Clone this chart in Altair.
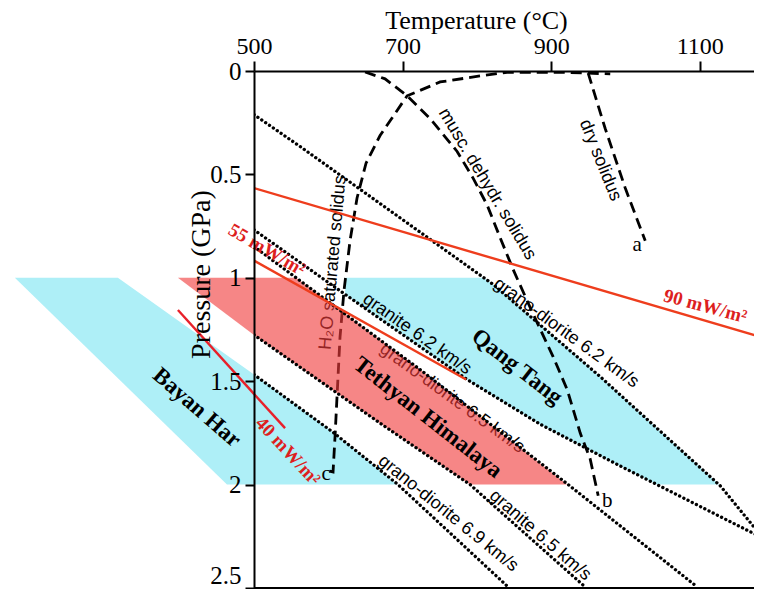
import altair as alt
import pandas as pd

# ---------------- data (T in °C, P in GPa) ----------------
# solidus curves
h2o_T = [601.7, 606.4, 609.1, 613.1, 615.8, 621.2, 629.3, 638.7, 650.8, 669.7, 706.1, 750.5, 804.4, 840.7, 912.0, 979.5]
h2o_P = [1.935, 1.939, 1.766, 1.478, 1.286, 1.060, 0.820, 0.614, 0.446, 0.312, 0.120, 0.053, 0.024, 0.006, 0.006, 0.014]
musc_T = [649.5, 676.4, 706.1, 737.0, 773.4, 794.9, 813.8, 831.3, 848.8, 875.8, 902.7, 921.5, 939.1, 952.5, 963.3]
musc_P = [0.005, 0.038, 0.120, 0.230, 0.389, 0.518, 0.648, 0.806, 0.960, 1.176, 1.382, 1.540, 1.751, 1.876, 2.054]
dry_T = [949.8, 972.7, 999.7, 1026.6]
dry_P = [0.010, 0.278, 0.566, 0.821]

# seismic velocity contours
gd62_T = [500, 562, 696.6, 821.9, 966, 1127.6, 1185.5]
gd62_P = [0.211, 0.365, 0.710, 1.032, 1.478, 2.006, 2.260]
gr62_T = [500, 622.6, 786.9, 885.2, 992.9, 1185.5]
gr62_P = [0.768, 1.080, 1.492, 1.708, 1.910, 2.260]
gd65_T = [500, 723.6, 921.5, 1096.6]
gd65_P = [0.849, 1.444, 1.996, 2.495]
gr65_T = [500, 669.7, 790.9, 945.8]
gr65_P = [1.276, 1.703, 2.0, 2.495]
gd69_T = [500, 606.4, 692.6, 842.1]
gd69_P = [1.468, 1.747, 1.996, 2.495]

# geotherms
g90_T = [500, 1185.5]
g90_P = [0.566, 1.290]
g55_T = [500, 785.5]
g55_P = [0.917, 1.492]
g40_T = [397.6, 541.8]
g40_P = [1.156, 1.727]

# regions
bayan_T = [178.1, 316.8, 500, 606.4, 692.6, 463.6]
bayan_P = [1.0, 1.0, 1.468, 1.747, 2.0, 2.0]
qang_T = [623.0, 809.4, 821.9, 966.0, 1125.8, 1042.4, 992.9, 885.2, 786.9, 622.6]
qang_P = [1.0, 1.0, 1.032, 1.478, 2.0, 2.0, 1.910, 1.708, 1.492, 1.080]
teth_T = [397.6, 556.8, 723.6, 921.5, 790.9, 669.7, 500]
teth_P = [1.0, 1.0, 1.444, 2.0, 2.0, 1.703, 1.276]

# labels
under_txt = ["H\u2082O saturated  solidus", "grano-diorite 6.5 km/s"]
under_T = [606.4, 766.7]
under_P = [0.926, 1.583]
under_ang = [275, 36]

line_txt = ["musc. dehydr. solidus", "dry solidus", "granite 6.2 km/s",
            "grano-diorite 6.2 km/s", "grano-diorite 6.9 km/s", "granite 6.5 km/s"]
line_T = [813.8, 966.0, 719.5, 920.2, 761.3, 885.2]
line_P = [0.547, 0.432, 1.272, 1.267, 2.140, 2.246]
line_ang = [59, 68, 35, 36, 39, 41]

region_txt = ["Qang Tang", "Tethyan Himalaya", "Bayan Har"]
region_T = [854.2, 734.3, 423.2]
region_P = [1.430, 1.675, 1.627]
region_ang = [38, 38, 41]

red_txt = ["90 mW/m\u00b2", "55 mW/m\u00b2", "40 mW/m\u00b2"]
red_T = [1107.4, 517.5, 545.8]
red_P = [1.137, 0.864, 1.838]
red_ang = [15, 30, 47]

pt_txt = ["a", "b", "c"]
pt_T = [1015.8, 975.4, 597.0]
pt_P = [0.840, 2.078, 1.948]

x_ticks = [500, 700, 900, 1100]
y_ticks = [0, 0.5, 1, 1.5, 2, 2.5]


def seg(T, P, name):
    return pd.DataFrame({"T": T, "P": P, "i": list(range(len(T))), "name": name})


def lab(txt, T, P, ang):
    return pd.DataFrame({"txt": txt, "T": T, "P": P, "ang": ang})


xsc = alt.Scale(domain=[500, 1173], nice=False, zero=False)
ysc = alt.Scale(domain=[0, 2.5], reverse=True, nice=False, zero=False)

xaxis = alt.Axis(orient="top", values=x_ticks, title="Temperature (\u00b0C)",
                 titleFont="Liberation Serif", titleFontSize=26, titleFontWeight="normal",
                 titleColor="black", titleX=222, titleY=-43, titleBaseline="alphabetic",
                 labelFont="Liberation Serif", labelFontSize=24, labelColor="black",
                 labelPadding=3, labelFlush=False, labelOverlap=False,
                 tickSize=10, tickWidth=2, tickColor="black",
                 domainColor="black", domainWidth=2, grid=False, zindex=1,
                 labelExpr="'' + datum.value")
yaxis = alt.Axis(values=y_ticks, title="Pressure (GPa)",
                 titleFont="Liberation Serif", titleFontSize=28, titleFontWeight="normal",
                 titleColor="black", titleAngle=270, titleX=-45, titleY=203,
                 titleBaseline="alphabetic", titleAlign="center",
                 labelFont="Liberation Serif", labelFontSize=25, labelColor="black",
                 labelPadding=4, labelFlush=False, labelOverlap=False,
                 labelBaseline=alt.condition("datum.value == 2.5", alt.value("bottom"), alt.value("middle")),
                 tickSize=9, tickWidth=2, tickColor="black",
                 domainColor="black", domainWidth=2, grid=False, zindex=1,
                 labelExpr="'' + datum.value")

X = alt.X("T:Q", scale=xsc, axis=xaxis)
Y = alt.Y("P:Q", scale=ysc, axis=yaxis)

cyan = "#aeeff7"

cyan_df = pd.concat([seg(bayan_T, bayan_P, "bayan"), seg(qang_T, qang_P, "qang")])
cyan_layer = alt.Chart(cyan_df).mark_line(fill=cyan, strokeWidth=0, strokeOpacity=0, clip=False).encode(
    x=X, y=Y, order="i:Q", detail="name:N")

h2o_layer = alt.Chart(seg(h2o_T, h2o_P, "h2o")).mark_line(
    color="black", strokeWidth=2.8, strokeDash=[11, 6], clip=True).encode(x=X, y=Y, order="i:Q")

under_layer = alt.Chart(lab(under_txt, under_T, under_P, under_ang)).mark_text(
    font="Liberation Sans", fontSize=18, color="black", align="center", baseline="middle").encode(
    x=X, y=Y, text="txt:N", angle=alt.Angle("ang:Q", scale=None))

pink_layer = alt.Chart(seg(teth_T, teth_P, "teth")).mark_line(
    fill="#f03c3c", fillOpacity=0.62, strokeWidth=0, strokeOpacity=0, clip=False).encode(
    x=X, y=Y, order="i:Q")

dash_df = pd.concat([seg(musc_T, musc_P, "musc"), seg(dry_T, dry_P, "dry")])
dash_layer = alt.Chart(dash_df).mark_line(
    color="black", strokeWidth=2.8, strokeDash=[11, 6], clip=True).encode(
    x=X, y=Y, order="i:Q", detail="name:N")

dot_df = pd.concat([seg(gd62_T, gd62_P, "gd62"), seg(gr62_T, gr62_P, "gr62"),
                    seg(gd65_T, gd65_P, "gd65"), seg(gr65_T, gr65_P, "gr65"),
                    seg(gd69_T, gd69_P, "gd69")])
dot_layer = alt.Chart(dot_df).mark_line(
    color="black", strokeWidth=3.3, strokeDash=[0.1, 4.6], strokeCap="round", clip=True).encode(
    x=X, y=Y, order="i:Q", detail="name:N")

red_in_df = pd.concat([seg(g90_T, g90_P, "g90"), seg(g55_T, g55_P, "g55")])
red_in_layer = alt.Chart(red_in_df).mark_line(color="#ee3d1d", strokeWidth=2.4, clip=True).encode(
    x=X, y=Y, order="i:Q", detail="name:N")
red_out_layer = alt.Chart(seg(g40_T, g40_P, "g40")).mark_line(color="#e8202a", strokeWidth=2.4, clip=False).encode(
    x=X, y=Y, order="i:Q")

line_lab_layer = alt.Chart(lab(line_txt, line_T, line_P, line_ang)).mark_text(
    font="Liberation Sans", fontSize=18, color="black", align="center", baseline="middle").encode(
    x=X, y=Y, text="txt:N", angle=alt.Angle("ang:Q", scale=None))

region_layer = alt.Chart(lab(region_txt, region_T, region_P, region_ang)).mark_text(
    font="Liberation Serif", fontSize=23, fontWeight="bold", color="black",
    align="center", baseline="middle").encode(
    x=X, y=Y, text="txt:N", angle=alt.Angle("ang:Q", scale=None))

red_lab_layer = alt.Chart(lab(red_txt, red_T, red_P, red_ang)).mark_text(
    font="Liberation Serif", fontSize=19, fontWeight="bold", color="#dd1f1f",
    align="center", baseline="middle").encode(
    x=X, y=Y, text="txt:N", angle=alt.Angle("ang:Q", scale=None))

pt_layer = alt.Chart(pd.DataFrame({"txt": pt_txt, "T": pt_T, "P": pt_P})).mark_text(
    font="Liberation Serif", fontSize=21, color="black", align="center", baseline="middle").encode(
    x=X, y=Y, text="txt:N")

bottom_layer = alt.Chart(pd.DataFrame({"P": [2.5]})).mark_rule(color="black", strokeWidth=2).encode(y=Y)

chart = alt.layer(
    cyan_layer, h2o_layer, under_layer, pink_layer, dash_layer, dot_layer,
    red_in_layer, red_out_layer, line_lab_layer, region_layer, red_lab_layer,
    pt_layer, bottom_layer
).properties(
    width=500, height=517,
    autosize=alt.AutoSizeParams(type="none"),
    padding={"left": 246, "top": 63, "right": 0, "bottom": 1},
    background="white",
).configure_view(strokeWidth=0)

chart.save("out.html", embed_options={"renderer": "svg", "actions": False})
